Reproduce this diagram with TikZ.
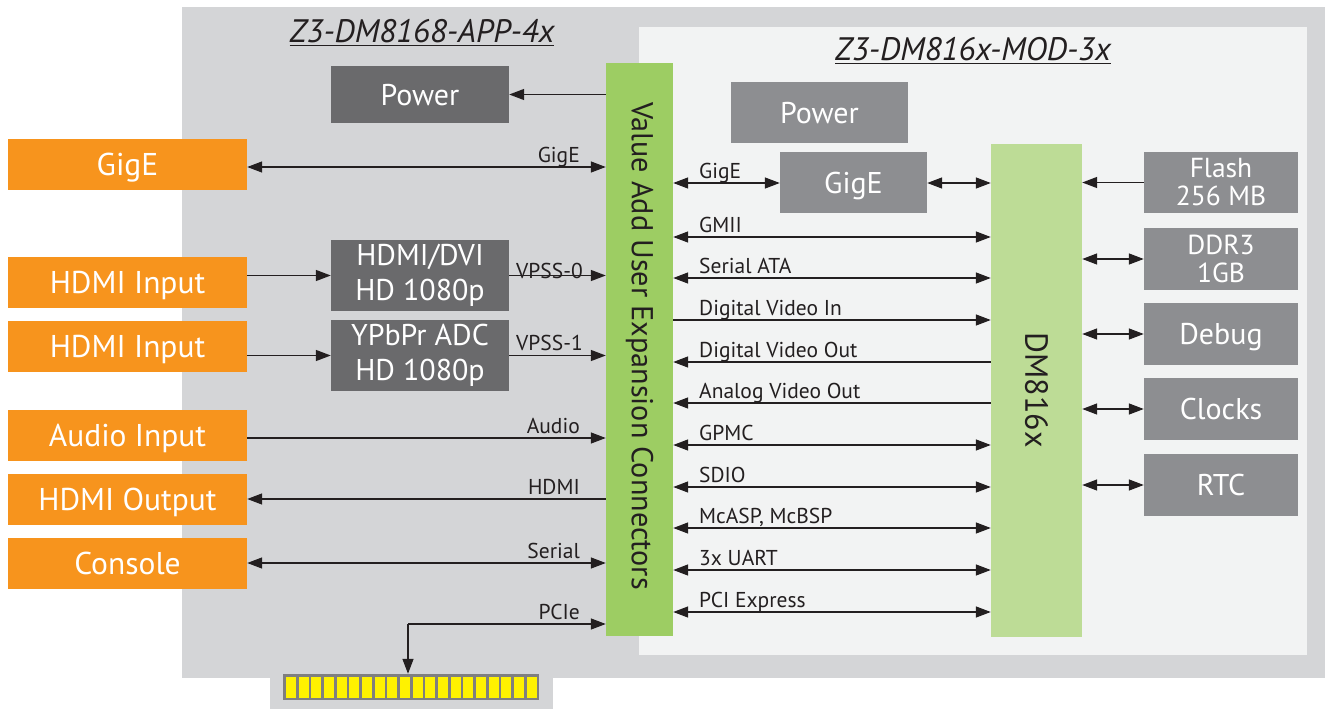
\documentclass[tikz,border=0pt]{standalone}
\usepackage{fontspec}
\setmainfont{PT Sans}
\usetikzlibrary{arrows.meta}
\definecolor{outerg}{HTML}{D4D5D7}
\definecolor{innerg}{HTML}{F2F3F3}
\definecolor{orng}{HTML}{F7941D}
\definecolor{dkbox}{HTML}{6A6A6C}
\definecolor{mdbox}{HTML}{8D8E91}
\definecolor{gbar}{HTML}{9DCD63}
\definecolor{lgbar}{HTML}{BDDC96}
\definecolor{ink}{HTML}{231F20}
\definecolor{pinfill}{HTML}{FFF200}
\definecolor{pinedge}{HTML}{7F7F7F}
\tikzset{
  boxbase/.style={rectangle, inner sep=0pt, text=white, align=center},
  obox/.style={boxbase, text height=22pt, text depth=0pt, fill=orng, minimum width=239pt, minimum height=51pt, font=\fontsize{31.5}{33}\selectfont},
  dbox/.style={boxbase, fill=dkbox, font=\fontsize{30}{35}\selectfont},
  dbox1/.style={dbox, text height=21pt, text depth=0pt},
  mbox/.style={boxbase, fill=mdbox, minimum width=154pt, minimum height=62pt, font=\fontsize{30}{32}\selectfont},
  mbox1/.style={mbox, text height=21pt, text depth=0pt},
  mbox2/.style={mbox, font=\fontsize{27.5}{28}\selectfont},
  lbl/.style={inner sep=0pt, text=ink, font=\fontsize{21.5}{22}\selectfont},
  conn/.style={draw=ink, line width=1.4pt},
  toR/.style={conn, -{Triangle[length=15pt,width=11pt]}},
  toL/.style={conn, {Triangle[length=15pt,width=11pt]}-},
  both/.style={conn, {Triangle[length=15pt,width=11pt]}-{Triangle[length=15pt,width=11pt]}},
  ttl/.style={inner sep=0pt, text=ink, font=\fontsize{32.5}{34}\selectfont\itshape},
  vtxt/.style={rotate=-90, inner sep=0pt, text=ink},
}
\begin{document}
\begin{tikzpicture}[x=1pt,y=-1pt]
\useasboundingbox (0,0) rectangle (1325,709);
% backgrounds
\path[fill=outerg] (182,7) rectangle (1325,678);
\path[fill=outerg] (270,678) rectangle (553,709);
\path[fill=innerg] (639,27) rectangle (1307,655);
% titles
\node[ttl, anchor=base] (t1) at (422,43) {\underline{Z3-DM8168-APP-4x}};
\node[ttl, anchor=base] (t2) at (973,61) {\underline{Z3-DM816x-MOD-3x}};
% bars
\node[rectangle, fill=gbar, minimum width=67pt, minimum height=573pt, inner sep=0pt] (vac) at (639.5,349.5) {};
\node[vtxt, font=\fontsize{30.2}{31}\selectfont] (vactxt) at (639.5,346) {Value Add User Expansion Connectors};
\node[rectangle, fill=lgbar, minimum width=91pt, minimum height=493pt, inner sep=0pt] (dm) at (1036.5,390.5) {};
\node[vtxt, font=\fontsize{32}{33}\selectfont] (dmtxt) at (1036.5,390) {DM816x};
% app board boxes
\node[dbox1, minimum width=178pt, minimum height=57pt] (pow1) at (420,94.5) {Power};
\node[dbox, minimum width=178pt, minimum height=71pt] (hdvi) at (420,275.5) {HDMI/DVI\\HD 1080p};
\node[dbox, minimum width=178pt, minimum height=71pt] (ypb) at (420,355.5) {YPbPr ADC\\HD 1080p};
% orange boxes
\node[obox] (gige) at (127.5,164) {GigE};
\node[obox] (hin1) at (127.5,282) {HDMI Input};
\node[obox] (hin2) at (127.5,346.5) {HDMI Input};
\node[obox] (ain) at (127.5,435.5) {Audio Input};
\node[obox] (hout) at (127.5,499.5) {HDMI Output};
\node[obox] (cons) at (127.5,563.5) {Console};
% module boxes
\node[mbox1, minimum width=177pt, minimum height=61pt] (pow2) at (819.5,112.5) {Power};
\node[mbox1, minimum width=147pt, minimum height=61pt] (gigm) at (853.5,182.5) {GigE};
\node[mbox2, minimum height=61pt] (flash) at (1221,182.5) {Flash\\256 MB};
\node[mbox2] (ddr) at (1221,259) {DDR3\\1GB};
\node[mbox1] (dbg) at (1221,334) {Debug};
\node[mbox1] (clk) at (1221,409) {Clocks};
\node[mbox1] (rtc) at (1221,485) {RTC};
% pcie connector
\node[rectangle, fill=pinedge, minimum width=256pt, minimum height=26pt, inner sep=0pt] (pins) at (411,687) {};
\foreach \i in {0,...,19} \fill[pinfill] (286+\i*12.67,676.5) rectangle ++(10,21);
% row coordinates
\coordinate (rGig) at (640,167);
\coordinate (rAud) at (640,438);
\coordinate (rHdm) at (640,499);
\coordinate (rSer) at (640,563);
\coordinate (rPci) at (408,624);
\coordinate (rPow) at (640,94.5);
% left connectors
\draw[toL] (pow1.east) -- (vac.west |- rPow);
\draw[both] (gige.east |- rGig) -- (vac.west |- rGig);
\draw[toR] (hin1.east |- hdvi.center) -- (hdvi.west);
\draw[toR] (hin2.east |- ypb.center) -- (ypb.west);
\draw[toR] (hdvi.east) -- (vac.west |- hdvi.east);
\draw[toR] (ypb.east) -- (vac.west |- ypb.east);
\draw[toR] (ain.east |- rAud) -- (vac.west |- rAud);
\draw[toL] (hout.east |- rHdm) -- (vac.west |- rHdm);
\draw[both] (cons.east |- rSer) -- (vac.west |- rSer);
\draw[toR] (rPci) -- (vac.west |- rPci);
\draw[toR] (rPci) -- (pins.north -| rPci);
% left labels
\node[lbl, anchor=base east] at (580,162) {GigE};
\node[lbl, anchor=base west] at (516,278) {VPSS-0};
\node[lbl, anchor=base west] at (516,350.5) {VPSS-1};
\node[lbl, anchor=base east] at (580,433.5) {Audio};
\node[lbl, anchor=base east] at (580,494.5) {HDMI};
\node[lbl, anchor=base east] at (580,558.5) {Serial};
\node[lbl, anchor=base east] at (580,619.5) {PCIe};
% module rows
\foreach \nm/\yy in {m1/183,m2/237,m3/278,m4/320,m5/362,m6/403,m7/445,m8/487,m9/528,m10/570,m11/612}
  \coordinate (\nm) at (700,\yy);
\draw[both] (vac.east |- m1) -- (gigm.west |- m1);
\draw[both] (gigm.east |- m1) -- (dm.west |- m1);
\draw[both] (vac.east |- m2) -- (dm.west |- m2);
\draw[both] (vac.east |- m3) -- (dm.west |- m3);
\draw[toR] (vac.east |- m4) -- (dm.west |- m4);
\draw[toL] (vac.east |- m5) -- (dm.west |- m5);
\draw[toL] (vac.east |- m6) -- (dm.west |- m6);
\draw[both] (vac.east |- m7) -- (dm.west |- m7);
\draw[both] (vac.east |- m8) -- (dm.west |- m8);
\draw[both] (vac.east |- m9) -- (dm.west |- m9);
\draw[both] (vac.east |- m10) -- (dm.west |- m10);
\draw[both] (vac.east |- m11) -- (dm.west |- m11);
\foreach \yy/\tx in {183/GigE,237/GMII,278/Serial ATA,320/Digital Video In,362/Digital Video Out,403/Analog Video Out,445/GPMC,487/SDIO,528/{McASP, McBSP},570/3x UART,612/PCI Express}
  \node[lbl, anchor=base west] at (699,\yy-4.5) {\tx};
% right side
\draw[toL] (dm.east |- flash.west) -- (flash.west);
\draw[both] (dm.east |- ddr.west) -- (ddr.west);
\draw[both] (dm.east |- dbg.west) -- (dbg.west);
\draw[both] (dm.east |- clk.west) -- (clk.west);
\draw[both] (dm.east |- rtc.west) -- (rtc.west);
\end{tikzpicture}
\end{document}
